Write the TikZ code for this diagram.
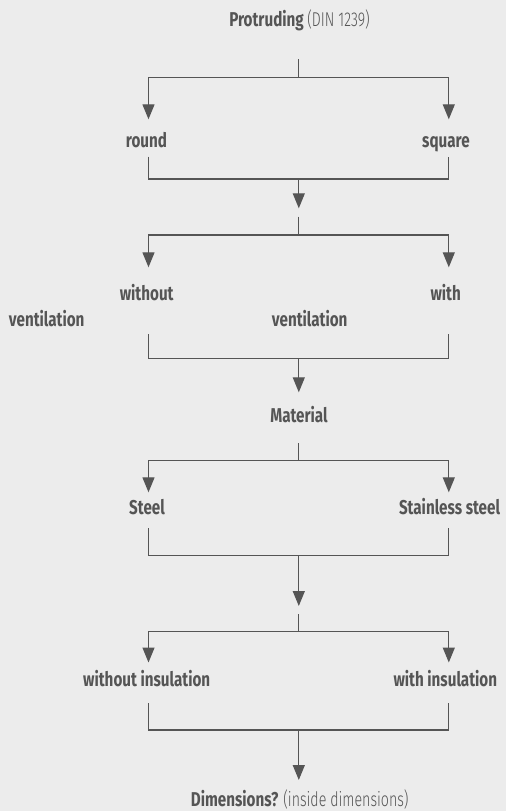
\documentclass[tikz,border=0pt]{standalone}
\usepackage{fontspec}
\setmainfont{Fira Sans}[FakeStretch=0.76]
\newfontfamily\lightfont{Fira Sans Light}[FakeStretch=0.71]
\usetikzlibrary{arrows.meta}
\definecolor{bg}{HTML}{ECECEC}
\definecolor{ink}{HTML}{555555}
\begin{document}
\begin{tikzpicture}[x=1pt,y=-1pt,
  lbl/.style={inner sep=0pt,anchor=base,text=ink,font=\fontsize{20}{24}\selectfont\bfseries},
  conn/.style={draw=ink,line width=1.3pt,line join=miter},
  arr/.style={conn,-{Triangle[width=12pt,length=15pt]}}]
\fill[bg] (0,0) rectangle (506,811);
\useasboundingbox (0,0) rectangle (506,811);
% columns
\def\L{148.5}\def\R{448.8}\def\C{298.8}
% labels
\node[lbl] (title) at (299.5,26) {Protruding {\lightfont\mdseries(DIN 1239)}};
\node[lbl] (round) at (146.5,147.7) {round};
\node[lbl] (square) at (446,147.7) {square};
\node[lbl] (without) at (146.7,300) {without};
\node[lbl] (with) at (445.7,300) {with};
\node[lbl] (ventL) at (46.7,326) {ventilation};
\node[lbl] (ventM) at (309.7,326) {ventilation};
\node[lbl] (material) at (299,422.7) {Material};
\node[lbl] (steel) at (147,514) {Steel};
\node[lbl] (stainless) at (449.5,514) {Stainless steel};
\node[lbl] (woins) at (146.7,686) {without insulation};
\node[lbl] (wins) at (445.3,686) {with insulation};
\node[lbl] (dims) at (299.7,806.7) {Dimensions? {\lightfont\mdseries(inside dimensions)}};
% stage 1
\coordinate (s1) at (\C,59.3);
\coordinate (b1) at (\C,77.7);
\coordinate (a1l) at (\L,119.3);
\coordinate (a1r) at (\R,119.3);
\draw[conn] (s1) -- (b1);
\draw[arr] (b1) -| (a1l);
\draw[arr] (b1) -| (a1r);
% merge 1
\coordinate (m1l) at (\L,156.7);
\coordinate (m1r) at (\R,156.7);
\coordinate (m1) at (\C,179);
\coordinate (t1) at (\C,208.3);
\draw[conn] (m1l) |- (m1) -| (m1r);
\draw[arr] (m1) -- (t1);
% stage 2
\coordinate (s2) at (\C,216.7);
\coordinate (b2) at (\C,235);
\coordinate (a2l) at (\L,267.3);
\coordinate (a2r) at (\R,267.3);
\draw[conn] (s2) -- (b2);
\draw[arr] (b2) -| (a2l);
\draw[arr] (b2) -| (a2r);
% merge 2
\coordinate (m2l) at (\L,334.3);
\coordinate (m2r) at (\R,334.3);
\coordinate (m2) at (\C,358.7);
\coordinate (t2) at (\C,392.3);
\draw[conn] (m2l) |- (m2) -| (m2r);
\draw[arr] (m2) -- (t2);
% stage 3
\coordinate (s3) at (\C,443.3);
\coordinate (b3) at (\C,460.7);
\coordinate (a3l) at (\L,492.3);
\coordinate (a3r) at (\R,492.3);
\draw[conn] (s3) -- (b3);
\draw[arr] (b3) -| (a3l);
\draw[arr] (b3) -| (a3r);
% merge 3
\coordinate (m3l) at (\L,528.3);
\coordinate (m3r) at (\R,528.3);
\coordinate (m3) at (\C,555.3);
\coordinate (t3) at (\C,606);
\draw[conn] (m3l) |- (m3) -| (m3r);
\draw[arr] (m3) -- (t3);
% stage 4
\coordinate (s4) at (\C,614.3);
\coordinate (b4) at (\C,631.7);
\coordinate (a4l) at (\L,662.5);
\coordinate (a4r) at (\R,662.5);
\draw[conn] (s4) -- (b4);
\draw[arr] (b4) -| (a4l);
\draw[arr] (b4) -| (a4r);
% merge 4
\coordinate (m4l) at (\L,703.3);
\coordinate (m4r) at (\R,703.3);
\coordinate (m4) at (\C,730);
\coordinate (t4) at (\C,780);
\draw[conn] (m4l) |- (m4) -| (m4r);
\draw[arr] (m4) -- (t4);
\end{tikzpicture}
\end{document}
